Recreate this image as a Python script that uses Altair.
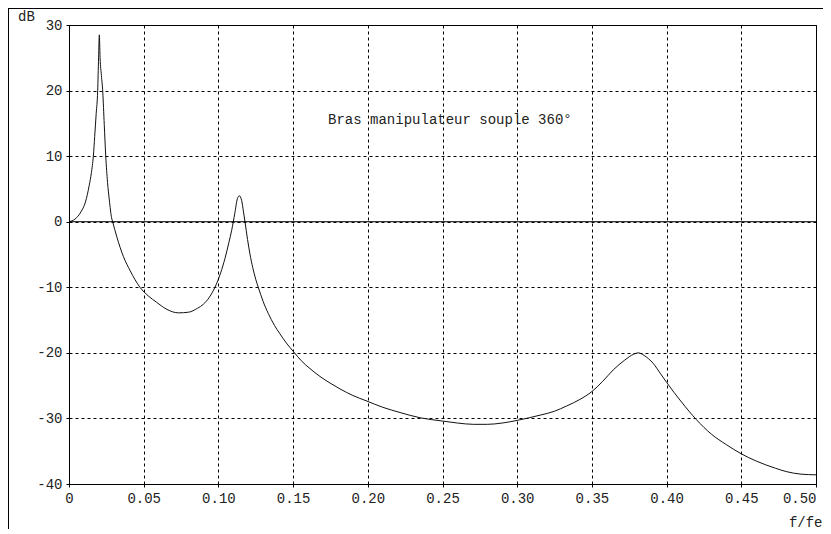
import altair as alt
import pandas as pd

# ---- data ----
freq = [0.000, 0.004, 0.008, 0.011, 0.0135, 0.0150, 0.0163, 0.0172, 0.0182, 0.0192,
        0.0198, 0.0203, 0.0208, 0.0217, 0.0226, 0.0236, 0.0246, 0.0258, 0.0270, 0.0285,
        0.0292, 0.0320, 0.0364, 0.0410, 0.0475, 0.0530, 0.0587, 0.0650, 0.0732, 0.0800,
        0.0860, 0.0899, 0.0940, 0.0977, 0.1015, 0.1044, 0.1070, 0.1089, 0.1110, 0.1127,
        0.1140, 0.1156, 0.1168, 0.1178, 0.1195, 0.1211, 0.1230, 0.1250, 0.1267, 0.1300,
        0.1334, 0.1375, 0.1412, 0.1455, 0.1502, 0.1555, 0.1613, 0.1680, 0.1747, 0.1814,
        0.1900, 0.1988, 0.2100, 0.2216, 0.2350, 0.2500, 0.2600, 0.2707, 0.2800, 0.2900,
        0.3000, 0.3080, 0.3153, 0.3250, 0.3331, 0.3420, 0.3500, 0.3570, 0.3643, 0.3720,
        0.3780, 0.3810, 0.3850, 0.3910, 0.3960, 0.4000, 0.4100, 0.4200, 0.4300, 0.4400,
        0.4500, 0.4600, 0.4729, 0.4800, 0.4900, 0.5000]
gain_db = [0.0, 0.4, 1.5, 3.0, 5.5, 7.5, 10.0, 13.0, 16.5, 20.0,
           25.0, 28.5, 25.0, 22.3, 19.8, 14.8, 10.0, 6.0, 3.3, 0.6,
           0.0, -2.3, -5.3, -7.5, -10.0, -11.3, -12.3, -13.3, -13.9, -13.8,
           -13.2, -12.6, -11.5, -10.0, -7.8, -5.6, -3.2, -1.3, 1.3, 3.5,
           3.95, 3.2, 1.5, 0.0, -2.7, -4.9, -7.0, -8.8, -10.0, -12.2,
           -14.0, -15.8, -17.1, -18.5, -19.8, -21.2, -22.4, -23.6, -24.6, -25.5,
           -26.5, -27.3, -28.3, -29.1, -29.9, -30.4, -30.7, -30.9, -30.9, -30.7,
           -30.3, -29.9, -29.5, -28.9, -28.1, -27.1, -25.9, -24.4, -22.6, -21.1,
           -20.2, -20.0, -20.4, -21.6, -23.2, -24.5, -27.5, -30.2, -32.4, -34.0,
           -35.4, -36.5, -37.6, -38.1, -38.5, -38.6]

x_ticks = [0, 0.05, 0.10, 0.15, 0.20, 0.25, 0.30, 0.35, 0.40, 0.45, 0.50]
y_ticks = [-40, -30, -20, -10, 0, 10, 20, 30]

annotation_text = ["Bras manipulateur souple 360°"]
annotation_f = [0.1734]
annotation_db = [15.5]

# ---- styling ----
FONT = "Liberation Mono"
FS = 14
W, H = 747, 459
PAD = {"left": 61, "top": 17, "right": 7, "bottom": 45}

curve = pd.DataFrame({"f": freq, "dB": gain_db})
ann = pd.DataFrame({"f": annotation_f, "dB": annotation_db, "label": annotation_text})

x_enc = alt.X(
    "f:Q",
    scale=alt.Scale(domain=[0, 0.5], nice=False, zero=False),
    axis=alt.Axis(
        values=x_ticks,
        labelExpr="datum.value == 0 ? '0' : format(datum.value, '.2f')",
        labelAlign=alt.condition("datum.value >= 0.5", alt.value("right"), alt.value("center")),
        title="f/fe",
        titleX=W + PAD["right"] - 1, titleY=38, titleAlign="right", titleBaseline="middle",
        titleAngle=0,
    ),
)
y_enc = alt.Y(
    "dB:Q",
    scale=alt.Scale(domain=[-40, 30], nice=False, zero=False),
    axis=alt.Axis(
        values=y_ticks,
        labelExpr="'' + datum.value",
        title="dB",
        titleX=-43, titleY=-9, titleAlign="center", titleBaseline="middle",
        titleAngle=0,
    ),
)

line = alt.Chart(curve).mark_line(
    color="#111", strokeWidth=1, interpolate="monotone"
).encode(x=x_enc, y=y_enc)

zero = alt.Chart(pd.DataFrame({"dB": [0]})).mark_rule(
    color="#000", strokeWidth=1
).encode(y="dB:Q")

text = alt.Chart(ann).mark_text(
    align="left", baseline="middle", font=FONT, fontSize=FS, color="#222"
).encode(x="f:Q", y="dB:Q", text="label:N")

frame_df = pd.DataFrame({"k": [0]})
frame_left = alt.Chart(frame_df).mark_rule(color="#000", strokeWidth=1).encode(
    x=alt.value(-60.5), y=alt.value(-17), y2=alt.value(H + PAD["bottom"])
)
frame_top = alt.Chart(frame_df).mark_rule(color="#000", strokeWidth=1).encode(
    x=alt.value(-61), x2=alt.value(W + PAD["right"]), y=alt.value(-16.5)
)

chart = alt.layer(line, zero, text, frame_left, frame_top).properties(
    width=W, height=H, padding=PAD,
    autosize=alt.AutoSizeParams(type="none"),
    background="white",
).configure_view(
    stroke="#000", strokeWidth=1
).configure_axis(
    domainColor="#000", domainWidth=1,
    tickColor="#000", tickSize=3, tickWidth=1,
    gridColor="#000", gridDash=[3, 3], gridOpacity=1, gridWidth=1,
    labelFont=FONT, labelFontSize=FS, labelColor="#222", labelPadding=4,
    labelFlush=False, labelOverlap=False,
    titleFont=FONT, titleFontSize=FS, titleFontWeight="normal", titleColor="#222",
)

chart.save("out.html", embed_options={"renderer": "svg", "actions": False})
